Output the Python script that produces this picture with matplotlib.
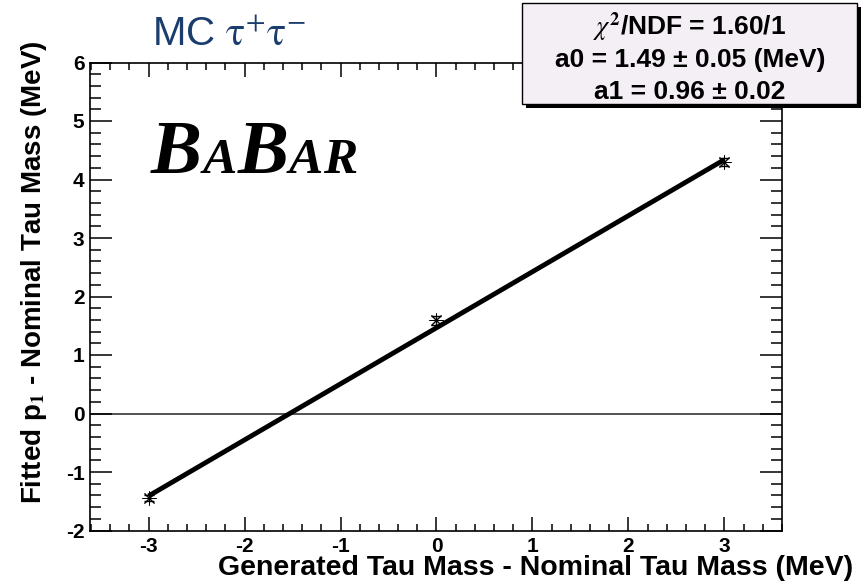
import matplotlib
matplotlib.use("Agg")
import matplotlib.pyplot as plt
from matplotlib.ticker import MultipleLocator
from matplotlib.patches import Rectangle

# measured points (generated - nominal, fitted p1 - nominal), MeV
gen_mass = [-3.0, 0.0, 3.0]
fit_p1 = [-1.45, 1.59, 4.30]
fit_p1_err = [0.05, 0.07, 0.07]

# straight-line fit drawn across the points
fit_line_x = [-3.0, 3.0]
fit_line_y = [-1.41, 4.34]

stats_lines = ["$\\chi^{\\mathbf{2}}$/NDF = 1.60/1",
               "a0 = 1.49 \u00b1 0.05 (MeV)",
               "a1 = 0.96 \u00b1 0.02"]

babar_parts = ["B", "A", "B", "A", "R"]
babar_sizes = [55, 37, 55, 37, 37]

plt.rcParams['font.family'] = ['Liberation Sans', 'DejaVu Sans']
plt.rcParams['mathtext.fontset'] = 'stix'
plt.rcParams['axes.unicode_minus'] = False

W, H = 863, 582
fig = plt.figure(figsize=(W / 100, H / 100), dpi=100)
ax = fig.add_axes([90 / W, 1 - 530.5 / H, (782 - 90) / W, (530.5 - 62.5) / H])

ax.axhline(0, color='#444444', lw=1.3, zorder=1)
ax.plot(fit_line_x, fit_line_y, color='black', lw=3.5, solid_capstyle='butt', zorder=2)
ax.errorbar(gen_mass, fit_p1, yerr=fit_p1_err, fmt='none', ecolor='black',
            elinewidth=1, capsize=3.5, capthick=1, zorder=3)
ax.plot(gen_mass, fit_p1, linestyle='none', marker=(8, 2, 0), ms=10,
        mec='black', mew=0.7, zorder=4)

ax.set_xlim(-3.61, 3.6)
ax.set_ylim(-2, 6)
ax.xaxis.set_major_locator(MultipleLocator(1))
ax.xaxis.set_minor_locator(MultipleLocator(0.2))
ax.yaxis.set_major_locator(MultipleLocator(1))
ax.yaxis.set_minor_locator(MultipleLocator(0.2))
ax.tick_params(which='both', direction='in', top=True, right=True, width=1.1,
               labelsize=15)
ax.tick_params(axis='x', which='major', length=10, pad=5)
ax.tick_params(axis='x', which='minor', length=5)
ax.tick_params(axis='y', which='major', length=16, pad=4)
ax.tick_params(axis='y', which='minor', length=8)
for lab in ax.get_xticklabels() + ax.get_yticklabels():
    lab.set_fontweight('bold')
for sp in ax.spines.values():
    sp.set_linewidth(1.2)

fig.text(853 / W, 1 - 568 / H, "Generated Tau Mass - Nominal Tau Mass (MeV)",
         ha='right', va='center', fontsize=20.5, fontweight='bold')
fig.text(34 / W, 1 - 272 / H, "Fitted p$_{\\mathbf{1}}$ - Nominal Tau Mass (MeV)",
         ha='center', va='center', rotation=90, fontsize=20, fontweight='bold')

fig.text(152 / W, 1 - 46 / H, "MC $\\mathrm{\\tau^{+}\\tau^{-}}$", fontsize=29,
         color='#1a3d6d', fontweight='normal', va='baseline')

# stats box with drop shadow
fig.patches.append(Rectangle((526 / W, 1 - 108 / H), 335 / W, 101 / H,
                             transform=fig.transFigure, fc='black', ec='none'))
fig.patches.append(Rectangle((522 / W, 1 - 104 / H), 335 / W, 101 / H,
                             transform=fig.transFigure, fc='#f4eff4', ec='black', lw=1))
for line, yc in zip(stats_lines, [27, 60, 92]):
    fig.text(690 / W, 1 - yc / H, line, ha='center', va='center',
             fontsize=19, fontweight='bold')

# BaBar logo, letters placed one after another
renderer = fig.canvas.get_renderer()
xpos = 151
for ch, size in zip(babar_parts, babar_sizes):
    t = fig.text(xpos / W, 1 - 173 / H, ch, fontsize=size, family='Liberation Serif',
                 fontweight='bold', style='italic', va='baseline')
    bb = t.get_window_extent(renderer)
    xpos = bb.x1 + 0.5

fig.savefig("out.png", dpi=100)
